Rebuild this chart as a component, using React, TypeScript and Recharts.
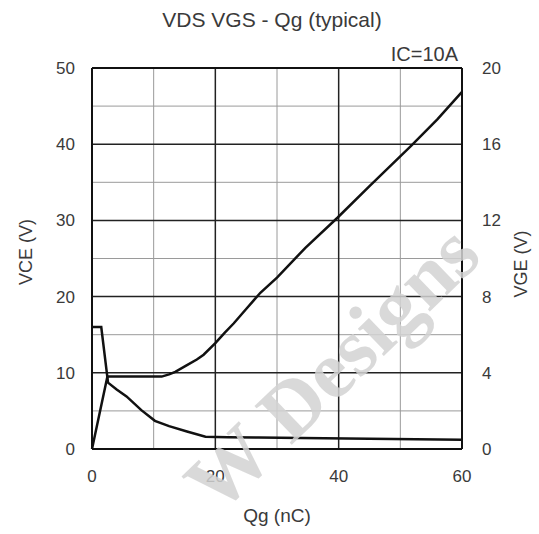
import React from "react";
import { LineChart, Line, XAxis, YAxis, ReferenceLine } from "recharts";

// VCE curve (left axis)
const qgVce = [0, 1.5, 2.6, 4, 5.6, 8, 10.2, 12.5, 15.4, 18.4, 22, 27, 34, 45, 60];
const vce = [16, 16, 8.7, 7.8, 6.9, 5.1, 3.7, 3.0, 2.3, 1.6, 1.55, 1.5, 1.45, 1.35, 1.2];

// VGE curve (right axis)
const qgVge = [0, 2.5, 11.3, 12.5, 13.5, 15.4, 17, 18.1, 20, 21.5, 23, 25, 27.3, 30, 34.6, 39.8, 45, 51.7, 56, 60];
const vge = [0, 3.8, 3.8, 3.92, 4.05, 4.4, 4.7, 4.95, 5.56, 6.1, 6.6, 7.35, 8.2, 9.0, 10.56, 12.14, 13.8, 15.9, 17.3, 18.75];

const xTicks = [0, 20, 40, 60];
const vceTicks = [0, 10, 20, 30, 40, 50];
const vgeTicks = [0, 4, 8, 12, 16, 20];
const xMinor = [10, 30, 50];
const xMajor = [20, 40];
const yMinor = [5, 15, 25, 35, 45];
const yMajor = [10, 20, 30, 40];

const vceData = qgVce.map((q, i) => ({ qg: q, vce: vce[i] }));
const vgeData = qgVge.map((q, i) => ({ qg: q, vge: vge[i] }));

const font = "'Liberation Sans', Arial, sans-serif";
const tick = { fontSize: 17, fill: "#3a3a3a", fontFamily: font };

export default function App() {
  return (
    <div style={{ position: "absolute", left: 0, top: 0, width: 539, height: 534, background: "#fff" }}>
      <LineChart width={539} height={534} margin={{ top: 68, right: 17, left: 0, bottom: 45 }}>
        <XAxis
          dataKey="qg"
          type="number"
          domain={[0, 60]}
          ticks={xTicks}
          axisLine={false}
          tickLine={false}
          tickSize={0}
          tickMargin={21}
          height={40}
          tick={tick}
          allowDuplicatedCategory={false}
        />
        <YAxis
          yAxisId="left"
          domain={[0, 50]}
          ticks={vceTicks}
          axisLine={false}
          tickLine={false}
          tickSize={0}
          tickMargin={17}
          width={92}
          tick={tick}
        />
        <YAxis
          yAxisId="right"
          orientation="right"
          domain={[0, 20]}
          ticks={vgeTicks}
          axisLine={false}
          tickLine={false}
          tickSize={0}
          tickMargin={20}
          width={60}
          tick={{ ...tick, textAnchor: "start" }}
        />
        {xMinor.map((v) => (
          <ReferenceLine key={"xm" + v} x={v} yAxisId="left" stroke="#9a9a9a" strokeWidth={1} />
        ))}
        {yMinor.map((v) => (
          <ReferenceLine key={"ym" + v} y={v} yAxisId="left" stroke="#9a9a9a" strokeWidth={1} />
        ))}
        {xMajor.map((v) => (
          <ReferenceLine key={"xM" + v} x={v} yAxisId="left" stroke="#222" strokeWidth={1.5} />
        ))}
        {yMajor.map((v) => (
          <ReferenceLine key={"yM" + v} y={v} yAxisId="left" stroke="#222" strokeWidth={1.5} />
        ))}
        <ReferenceLine x={0} yAxisId="left" stroke="#111" strokeWidth={2} />
        <ReferenceLine x={60} yAxisId="left" stroke="#111" strokeWidth={2} />
        <ReferenceLine y={0} yAxisId="left" stroke="#111" strokeWidth={2} />
        <ReferenceLine y={50} yAxisId="left" stroke="#111" strokeWidth={2} />
        <Line
          yAxisId="left"
          data={vceData}
          dataKey="vce"
          type="linear"
          stroke="#111"
          strokeWidth={2.5}
          dot={false}
          isAnimationActive={false}
        />
        <Line
          yAxisId="right"
          data={vgeData}
          dataKey="vge"
          type="linear"
          stroke="#111"
          strokeWidth={2.5}
          dot={false}
          isAnimationActive={false}
        />
      </LineChart>
      <svg
        width={539}
        height={534}
        style={{ position: "absolute", left: 0, top: 0, pointerEvents: "none" }}
      >
        <text x={272} y={27} textAnchor="middle" fontSize={21} fill="#3a3a3a" fontFamily={font}>
          VDS VGS - Qg (typical)
        </text>
        <text x={458} y={61} textAnchor="end" fontSize={20} fill="#3a3a3a" fontFamily={font}>
          IC=10A
        </text>
        <text transform="translate(32,252) rotate(-90)" textAnchor="middle" fontSize={18} fill="#3a3a3a" fontFamily={font}>
          VCE (V)
        </text>
        <text transform="translate(527,264) rotate(-90)" textAnchor="middle" fontSize={18} fill="#3a3a3a" fontFamily={font}>
          VGE (V)
        </text>
        <text x={277} y={522} textAnchor="middle" fontSize={19} fill="#3a3a3a" fontFamily={font}>
          Qg (nC)
        </text>
        <text
          transform="translate(218,516) rotate(-44)"
          fontSize={82}
          fontWeight="bold"
          fill="#d2d2d2"
          fillOpacity={0.85}
          fontFamily="'Liberation Serif', 'DejaVu Serif', serif"
        >
          W Designs
        </text>
      </svg>
    </div>
  );
}
